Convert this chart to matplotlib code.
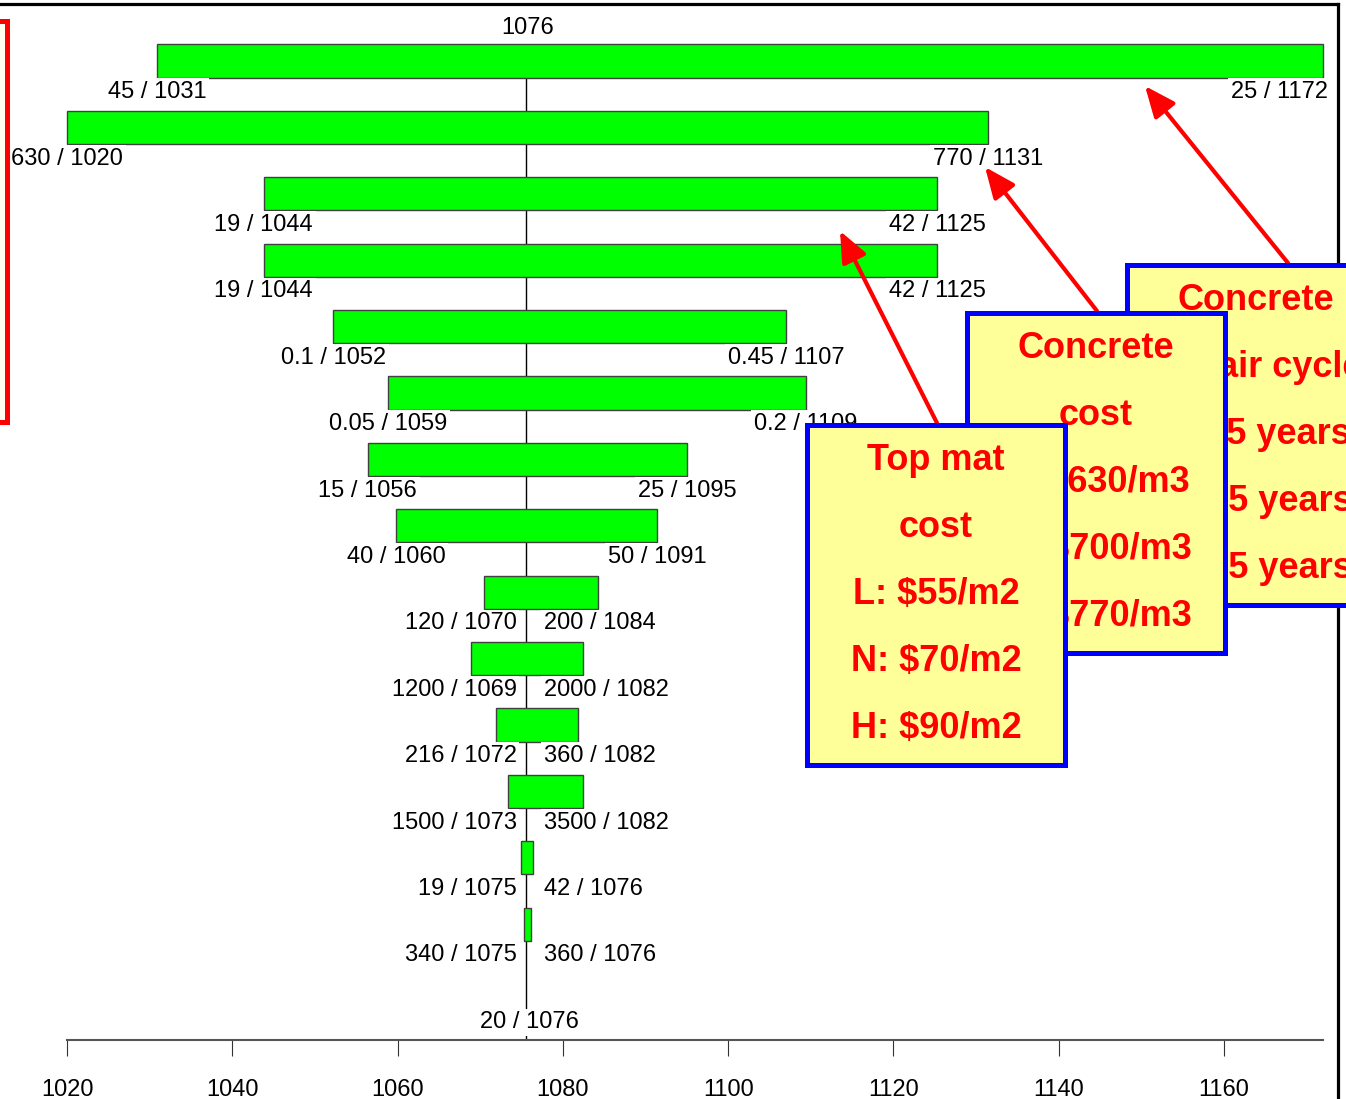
import matplotlib
matplotlib.use("Agg")
import matplotlib.pyplot as plt
from matplotlib.patches import Rectangle
from matplotlib.lines import Line2D

plt.rcParams["font.family"] = ["Liberation Sans", "DejaVu Sans"]

# ---------------------------------------------------------------------------
# Tornado data: base result and the output at the low / high input setting
# ---------------------------------------------------------------------------
BASE = 1075.6
BASE_TOP_LABEL = "1076"
BASE_LABEL = "20 / 1076"

LOW_INPUT = ["45", "630", "19", "19", "0.1", "0.05", "15", "40",
             "120", "1200", "216", "1500", "19", "340"]
HIGH_INPUT = ["25", "770", "42", "42", "0.45", "0.2", "25", "50",
              "200", "2000", "360", "3500", "42", "360"]
LOW_OUT = [1030.9, 1020.0, 1043.8, 1043.8, 1052.2, 1058.8, 1056.4, 1059.8,
           1070.4, 1068.9, 1071.9, 1073.4, 1074.9, 1075.3]
HIGH_OUT = [1172.0, 1131.4, 1125.3, 1125.3, 1107.0, 1109.4, 1095.0, 1091.4,
            1084.3, 1082.4, 1081.8, 1082.4, 1076.4, 1076.1]

XTICKS = [1020, 1040, 1060, 1080, 1100, 1120, 1140, 1160]

# call-out boxes (back to front)
BOX_LINES = [
    ["Concrete", "Repair cycle", "L: 45 years", "N: 35 years", "H: 25 years"],
    ["Concrete", "cost", "L: $630/m3", "N: $700/m3", "H: $770/m3"],
    ["Top mat", "cost", "L: $55/m2", "N: $70/m2", "H: $90/m2"],
]

W, H = 1346, 1099
fig = plt.figure(figsize=(W / 100, H / 100), dpi=100)

# main axes: bottom spine sits at pixel row 1040
PX_PER_UNIT = (1224 - 67) / 140.0
x_lo = 1020 - 67 / PX_PER_UNIT
x_hi = 1020 + (W - 67) / PX_PER_UNIT
ROW_PX = 66.4
ax = fig.add_axes([0, (H - 1040) / H, 1, 1040 / H])
ax.set_xlim(x_lo, x_hi)
ax.set_ylim((1040 - 61) / ROW_PX, -61 / ROW_PX)
ax.patch.set_visible(False)

rows = list(range(len(LOW_OUT)))
widths = [h - l for l, h in zip(LOW_OUT, HIGH_OUT)]
ax.barh(rows, widths, left=LOW_OUT, height=0.5, color="#00ff00",
        edgecolor="#404040", linewidth=1, zorder=3)
ax.vlines(BASE, -0.25, (1040 - 61) / ROW_PX, color="black", lw=1, zorder=2)

txt_kw = dict(fontsize=17, va="center", zorder=4, parse_math=False,
              bbox=dict(boxstyle="square,pad=0.12", fc="white", ec="none"))
ax.text(BASE + 0.1, -0.5, BASE_TOP_LABEL, ha="center", **txt_kw)
ax.text(BASE + 0.3, len(rows) + 0.48, BASE_LABEL, ha="center", **txt_kw)

lo_txt, hi_txt = [], []
for i in rows:
    lo_txt.append(ax.text(LOW_OUT[i], i + 0.47,
                          f"{LOW_INPUT[i]} / {LOW_OUT[i]:.0f}", ha="center", **txt_kw))
    hi_txt.append(ax.text(HIGH_OUT[i], i + 0.47,
                          f"{HIGH_INPUT[i]} / {HIGH_OUT[i]:.0f}", ha="center", **txt_kw))

# keep labels clear of the centre line / right edge
fig.canvas.draw()
rend = fig.canvas.get_renderer()
inv = ax.transData.inverted()
LEFT_LIM, RIGHT_LIM, EDGE_LIM = BASE - 1.2, BASE + 2.1, 1172.6
for t in lo_txt:
    bb = t.get_window_extent(rend)
    x1 = inv.transform((bb.x1, bb.y0))[0]
    if x1 > LEFT_LIM:
        t.set_x(LEFT_LIM)
        t.set_ha("right")
for t in hi_txt:
    bb = t.get_window_extent(rend)
    x0 = inv.transform((bb.x0, bb.y0))[0]
    x1 = inv.transform((bb.x1, bb.y0))[0]
    if x0 < RIGHT_LIM:
        t.set_x(RIGHT_LIM)
        t.set_ha("left")
    elif x1 > EDGE_LIM:
        t.set_x(EDGE_LIM)
        t.set_ha("right")

for s in ["top", "left", "right"]:
    ax.spines[s].set_visible(False)
ax.spines["bottom"].set_bounds(1020, 1172)
ax.spines["bottom"].set_color("#555555")
ax.spines["bottom"].set_linewidth(1.5)
ax.set_yticks([])
ax.set_xticks(XTICKS)
ax.set_xticklabels([str(v) for v in XTICKS])
ax.tick_params(axis="x", direction="out", length=11.5, width=0.8,
               color="#333333", pad=16.5, labelsize=17)

# ---------------------------------------------------------------------------
# overlay: frame, call-out boxes and arrows (pixel coordinates)
# ---------------------------------------------------------------------------
ov = fig.add_axes([0, 0, 1, 1], zorder=5)
ov.set_xlim(0, W)
ov.set_ylim(H, 0)
ov.axis("off")

ov.add_line(Line2D([0, 1338], [4, 4], color="black", lw=2.3, zorder=1))
ov.add_line(Line2D([1338, 1338], [4, H], color="black", lw=2.3, zorder=1))
ov.add_patch(Rectangle((-30, 21), 37, 401, fc="#fffff0", ec="red", lw=3.6, zorder=1))

arrows = [((937, 423), (840, 231)), ((1097, 311), (985, 167)),
          ((1288, 263), (1145, 86))]
for (x0, y0), (x1, y1) in arrows:
    ov.annotate("", xy=(x1, y1), xytext=(x0, y0), zorder=2,
                arrowprops=dict(arrowstyle="-|>,head_length=0.75,head_width=0.32",
                                color="red", lw=3, mutation_scale=25,
                                shrinkA=0, shrinkB=0))

box_pos = [(1127, 265), (967, 313), (807, 425)]
for k, ((bx, by), lines) in enumerate(zip(box_pos, BOX_LINES)):
    ov.add_patch(Rectangle((bx, by), 258, 340, fc="#ffff99", ec="#0000ff",
                           lw=3.6, zorder=10 + 2 * k))
    for j, line in enumerate(lines):
        ov.text(bx + 129, by + 35 + 67.2 * j, line, ha="center", va="center",
                fontsize=26, fontweight="bold", color="red", parse_math=False,
                zorder=11 + 2 * k)

fig.savefig("out.png", dpi=100)
